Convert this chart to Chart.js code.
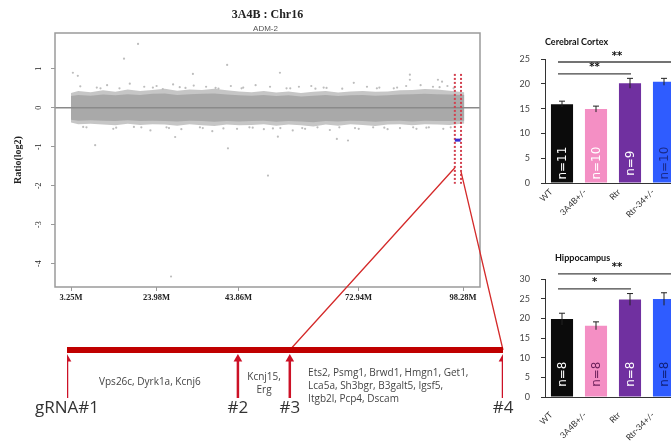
<!DOCTYPE html>
<html><head><meta charset="utf-8">
<script src="https://cdn.jsdelivr.net/npm/chart.js@4/dist/chart.umd.min.js"></script>
<style>
html,body{margin:0;padding:0;background:#fff;width:671px;height:441px;overflow:hidden;position:relative}
canvas{position:absolute}
</style></head><body>
<canvas id="scatter" width="500" height="320" style="left:0;top:0"></canvas>
<canvas id="map" width="520" height="441" style="left:0;top:0"></canvas>
<canvas id="cortex" width="175" height="205" style="left:515px;top:30px"></canvas>
<canvas id="hippo" width="175" height="201" style="left:515px;top:240px"></canvas>
<script>
// ===== Array-CGH scatter (Chr16) =====
const xTickValues = [3.25, 23.98, 43.86, 72.94, 98.28];
const xTickLabels = ['3.25M', '23.98M', '43.86M', '72.94M', '98.28M'];
const yTickValues = [-4, -3, -2, -1, 0, 1];
const bandX = [3.25, 5, 8, 11, 14, 17, 20, 23, 26, 29, 32, 35, 38, 41, 44, 47, 50, 53, 56, 59, 62, 65, 68, 71, 74, 77, 80, 83, 86, 89, 92, 95, 98.6];
const coreHigh = [0.30,0.33,0.31,0.34,0.32,0.35,0.33,0.36,0.37,0.33,0.35,0.36,0.37,0.34,0.32,0.31,0.33,0.30,0.32,0.29,0.31,0.33,0.30,0.32,0.33,0.31,0.32,0.34,0.35,0.36,0.35,0.34,0.33];
const coreLow = [-0.31,-0.33,-0.32,-0.33,-0.34,-0.32,-0.34,-0.33,-0.34,-0.35,-0.33,-0.34,-0.36,-0.34,-0.35,-0.34,-0.33,-0.36,-0.34,-0.35,-0.37,-0.34,-0.35,-0.33,-0.34,-0.36,-0.34,-0.33,-0.35,-0.33,-0.34,-0.34,-0.33];
const fringeHigh = [0.38,0.43,0.40,0.45,0.41,0.47,0.43,0.46,0.49,0.44,0.47,0.46,0.49,0.45,0.42,0.40,0.43,0.39,0.42,0.38,0.41,0.43,0.39,0.42,0.43,0.41,0.42,0.45,0.46,0.48,0.47,0.44,0.40];
const fringeLow = [-0.38,-0.42,-0.41,-0.43,-0.45,-0.41,-0.44,-0.42,-0.43,-0.46,-0.42,-0.45,-0.47,-0.43,-0.45,-0.44,-0.42,-0.46,-0.43,-0.45,-0.48,-0.43,-0.46,-0.42,-0.44,-0.47,-0.43,-0.42,-0.45,-0.42,-0.43,-0.44,-0.40];
const probeX = [19.5,16.1,41.1,3.7,4.9,53.9,32.8,85.4,85.4,92.2,93.2,71.8,9.1,28.5,41.3,53.4,67.7,70.4,51.0,27.5,
  5.5,7,9.5,12,13.5,15,17.5,18.5,21,22.5,24,25.5,27,28,30,31,33,34.5,36,37.5,39,42,43.5,45,46.5,48,50,51.5,54,55.5,57,58.5,60,61.5,63,64.5,66,69,73,75,76.5,78,80,81.5,83,84.5,87,88,90,91,93.5,94.5,96,
  6.2,10.4,14.2,20.3,23.1,26.4,29.6,35.2,38.3,40.2,44.6,47.3,52.2,56.4,59.3,62.5,65.2,68.3,72.1,77.4,79.2,82.3,86.2,89.4,92.6,95.3];
const probeY = [1.64,1.26,1.10,0.90,0.82,0.90,0.87,0.85,0.72,0.72,0.67,0.64,-0.96,-0.75,-1.04,-0.74,-0.80,-0.84,-1.74,-4.33,
  0.55,-0.50,0.52,0.58,-0.54,0.50,0.62,-0.49,0.54,-0.58,0.56,0.48,-0.52,0.60,-0.55,0.51,0.57,-0.50,0.54,-0.60,0.49,0.56,-0.54,0.52,-0.50,0.58,-0.55,0.54,-0.52,0.50,-0.58,0.54,-0.54,0.56,-0.50,0.52,-0.57,0.49,-0.54,0.54,-0.50,0.52,-0.55,0.50,-0.52,0.56,-0.54,0.58,-0.50,0.54,-0.54,0.56,0.50,
  -0.49,0.50,-0.51,-0.50,0.52,-0.50,0.53,-0.52,0.51,-0.53,0.50,-0.51,-0.53,0.50,-0.52,0.49,0.51,-0.50,-0.52,0.50,-0.51,0.52,-0.50,-0.51,0.53,-0.50];
const regionBounds = [96.3, 97.8];
const regionRatio = [0.87, -1.95];
const callStartEnd = [96.3, 97.7];
const callRatio = -0.83;

// ===== Gene map =====
const gRNANames = ['gRNA#1', '#2', '#3', '#4'];
const gRNAPos = [0, 39.2, 51.1, 100];
const geneLines = [['Vps26c, Dyrk1a, Kcnj6'], ['Kcnj15,', 'Erg'], ['Ets2, Psmg1, Brwd1, Hmgn1, Get1,', 'Lca5a, Sh3bgr, B3galt5, Igsf5,', 'Itgb2l, Pcp4, Dscam']];

// ===== Bar charts =====
const groups = ['WT', '3A4B+/-', 'Rtr', 'Rtr-34+/-'];
const cortexMeans = [15.9, 14.9, 20.1, 20.4];
const cortexErr = [0.6, 0.6, 1.0, 0.7];
const cortexN = [11, 10, 9, 10];
const hippoMeans = [19.8, 18.1, 24.8, 24.9];
const hippoErr = [1.5, 1.0, 1.5, 1.6];
const hippoN = [8, 8, 8, 8];
const cortexSig = [[0, 3, '**'], [0, 2, '**']];
const hippoSig = [[0, 3, '**'], [0, 2, '*']];

// ----- layout/style (not data) -----
const barColors = ['#0b0b0b', '#f48fc4', '#7030a0', '#2f5cff'];
const xMin = -0.63, xMax = 102.4;

const pts = (xs, ys) => xs.map((x, i) => ({x, y: ys[i]}));

const scatterDecor = {
  id: 'scatterDecor',
  afterDraw(chart) {
    const {ctx, chartArea: a, scales: {y}} = chart;
    ctx.save();
    ctx.strokeStyle = '#9a9a9a'; ctx.lineWidth = 1.5;
    ctx.strokeRect(a.left, a.top, a.right - a.left, a.bottom - a.top);
    ctx.fillStyle = '#222'; ctx.textAlign = 'center'; ctx.textBaseline = 'middle';
    ctx.font = '8px "Liberation Serif"';
    yTickValues.forEach(v => {
      ctx.save(); ctx.translate(39, y.getPixelForValue(v)); ctx.rotate(-Math.PI / 2);
      ctx.fillText(String(v), 0, 0); ctx.restore();
    });
    ctx.font = 'bold 10px "Liberation Serif"';
    ctx.save(); ctx.translate(18, (a.top + a.bottom) / 2); ctx.rotate(-Math.PI / 2);
    ctx.fillText('Ratio(log2)', 0, 0); ctx.restore();
    ctx.font = 'bold 12px "Liberation Serif"';
    ctx.fillText('3A4B : Chr16', (a.left + a.right) / 2, 15);
    ctx.font = '8px "Liberation Sans"'; ctx.fillStyle = '#555';
    ctx.fillText('ADM-2', (a.left + a.right) / 2 - 2, 29);
    ctx.restore();
  }
};

const scatterChart = new Chart(document.getElementById('scatter'), {
  type: 'line',
  data: {datasets: [
    {data: pts(bandX, fringeHigh), borderWidth: 0, pointRadius: 0, fill: '+1', backgroundColor: '#c6c6c6', order: 10},
    {data: pts(bandX, fringeLow), borderWidth: 0, pointRadius: 0, fill: false, order: 10},
    {data: pts(bandX, coreHigh), borderWidth: 0, pointRadius: 0, fill: '+1', backgroundColor: '#a9a9a9', order: 9},
    {data: pts(bandX, coreLow), borderWidth: 0, pointRadius: 0, fill: false, order: 9},
    {data: pts(probeX, probeY), showLine: false, pointRadius: 1.1, pointBackgroundColor: '#bdbdbd', pointBorderWidth: 0, order: 8},
    {data: [{x: xMin, y: 0}, {x: xMax, y: 0}], borderColor: '#8a8a8a', borderWidth: 1.5, pointRadius: 0, order: 5},
    {data: [{x: regionBounds[0], y: regionRatio[0]}, {x: regionBounds[0], y: regionRatio[1]}], borderColor: '#d2404f', borderWidth: 2, borderDash: [2, 2], pointRadius: 0, order: 3},
    {data: [{x: regionBounds[1], y: regionRatio[0]}, {x: regionBounds[1], y: regionRatio[1]}], borderColor: '#d2404f', borderWidth: 2, borderDash: [2, 2], pointRadius: 0, order: 3},
    {data: [{x: callStartEnd[0], y: callRatio}, {x: callStartEnd[1], y: callRatio}], borderColor: '#3b2fd0', borderWidth: 3, pointRadius: 0, order: 2}
  ]},
  options: {
    responsive: false, animation: false, devicePixelRatio: 1, events: [],
    layout: {padding: {top: 33, left: 0, right: 20, bottom: 0}},
    plugins: {legend: {display: false}, tooltip: {enabled: false}},
    elements: {line: {tension: 0}},
    scales: {
      x: {type: 'linear', min: xMin, max: xMax,
        afterBuildTicks(s) { s.ticks = xTickValues.map(v => ({value: v})); },
        afterFit(s) { s.height = 33; },
        grid: {drawOnChartArea: false, tickLength: 4, color: '#999'}, border: {display: false},
        ticks: {autoSkip: false, maxRotation: 0, padding: 2, color: '#222', font: {family: 'Liberation Serif', size: 8.5, weight: 'bold'},
          callback: (v) => xTickLabels[xTickValues.indexOf(v)]}},
      y: {type: 'linear', min: -4.6, max: 1.92,
        afterBuildTicks(s) { s.ticks = yTickValues.map(v => ({value: v})); },
        afterFit(s) { s.width = 55; },
        grid: {drawOnChartArea: false, tickLength: 4, color: '#999'}, border: {display: false},
        ticks: {display: false}}
    }
  },
  plugins: [scatterDecor]
});

// ===== Gene map chart =====
const mapDecor = {
  id: 'mapDecor',
  beforeDatasetsDraw(chart) {
    const ctx = chart.ctx, X = chart.scales.x, Y = chart.scales.y;
    const sx = scatterChart.scales.x, sy = scatterChart.scales.y;
    ctx.save(); ctx.strokeStyle = '#d42a2a'; ctx.lineWidth = 1.3;
    ctx.beginPath();
    ctx.moveTo(sx.getPixelForValue(regionBounds[0]), sy.getPixelForValue(-1.54));
    ctx.lineTo(X.getPixelForValue(gRNAPos[2]), Y.getPixelForValue(0));
    ctx.moveTo(sx.getPixelForValue(regionBounds[1]), sy.getPixelForValue(-1.64));
    ctx.lineTo(X.getPixelForValue(gRNAPos[3]), Y.getPixelForValue(0));
    ctx.stroke(); ctx.restore();
  },
  afterDraw(chart) {
    const ctx = chart.ctx, X = chart.scales.x, Y = chart.scales.y;
    ctx.save(); ctx.textBaseline = 'middle';
    ctx.fillStyle = '#333'; ctx.font = '17px "Open Sans"'; ctx.textAlign = 'center';
    gRNANames.forEach((n, i) => ctx.fillText(n, X.getPixelForValue(gRNAPos[i]), Y.getPixelForValue(-1.21)));
    ctx.fillStyle = '#444'; ctx.font = '10px "Open Sans"';
    ctx.fillText(geneLines[0][0], X.getPixelForValue(19.0), Y.getPixelForValue(-0.67));
    ctx.fillText(geneLines[1][0], X.getPixelForValue(45.2), Y.getPixelForValue(-0.56));
    ctx.fillText(geneLines[1][1], X.getPixelForValue(45.2), Y.getPixelForValue(-0.83));
    ctx.textAlign = 'left';
    geneLines[2].forEach((t, i) => ctx.fillText(t, X.getPixelForValue(55.3), Y.getPixelForValue(-0.48 - 0.27 * i)));
    ctx.restore();
  }
};
const mapSets = [
  {data: [{x: 0, y: 0}, {x: 100, y: 0}], borderColor: '#c00000', borderWidth: 6, pointRadius: 0, borderCapStyle: 'butt'}
];
gRNAPos.forEach(p => mapSets.push({data: [{x: p, y: -1}, {x: p, y: -0.15}], borderColor: '#cc1126', borderWidth: 2.5, pointRadius: 0}));
mapSets.push({data: gRNAPos.map(p => ({x: p, y: -0.19})), showLine: false, pointStyle: 'triangle', pointRadius: 5, pointBackgroundColor: '#cc1126', pointBorderColor: '#cc1126', pointBorderWidth: 0});
new Chart(document.getElementById('map'), {
  type: 'line',
  data: {datasets: mapSets},
  options: {
    responsive: false, animation: false, devicePixelRatio: 1, events: [],
    layout: {padding: {top: 326, left: 67, right: 17, bottom: 19}},
    plugins: {legend: {display: false}, tooltip: {enabled: false}},
    scales: {x: {type: 'linear', min: 0, max: 100, display: false}, y: {type: 'linear', min: -1.5, max: 0.5, display: false}}
  },
  plugins: [mapDecor]
});

// ===== Bar charts =====
function barDecor(cfg) {
  return {
    id: 'barDecor',
    afterDraw(chart) {
      const ctx = chart.ctx, ys = chart.scales.y, meta = chart.getDatasetMeta(0), a = chart.chartArea;
      ctx.save();
      ctx.strokeStyle = '#222'; ctx.lineWidth = 1;
      meta.data.forEach((bar, i) => {
        const hi = ys.getPixelForValue(cfg.means[i] + cfg.err[i]);
        const lo = ys.getPixelForValue(cfg.means[i] - cfg.err[i]);
        ctx.beginPath(); ctx.moveTo(bar.x, hi); ctx.lineTo(bar.x, lo);
        ctx.moveTo(bar.x - 3, hi); ctx.lineTo(bar.x + 3, hi); ctx.stroke();
      });
      ctx.font = '12px "DejaVu Sans"'; ctx.textAlign = 'center'; ctx.textBaseline = 'middle';
      meta.data.forEach((bar, i) => {
        ctx.save(); ctx.translate(bar.x + 1, ys.getPixelForValue(cfg.nY)); ctx.rotate(-Math.PI / 2);
        ctx.fillStyle = cfg.nColors[i]; ctx.fillText('n=' + cfg.n[i], 0, 0); ctx.restore();
      });
      ctx.strokeStyle = '#444'; ctx.lineWidth = 1.3; ctx.fillStyle = '#111';
      ctx.font = 'bold 10px "DejaVu Sans"';
      cfg.sig.forEach((s, k) => {
        const x0 = meta.data[s[0]].x - 4;
        const x1 = meta.data[s[1]].x + (s[1] === 3 ? 12 : 1);
        const yy = ys.getPixelForValue(cfg.sigLevel[k]);
        ctx.beginPath(); ctx.moveTo(x0, yy); ctx.lineTo(x1, yy); ctx.stroke();
        ctx.fillText(s[2], (x0 + x1) / 2, yy - 6);
      });
      ctx.font = 'bold 9px Lato'; ctx.textAlign = 'left'; ctx.fillStyle = '#111';
      ctx.fillText(cfg.title, a.left + cfg.titleDx, cfg.titleY);
      ctx.restore();
    }
  };
}
function makeBar(id, cfg) {
  return new Chart(document.getElementById(id), {
    type: 'bar',
    data: {labels: groups, datasets: [{data: cfg.means, backgroundColor: barColors, barPercentage: 0.65, categoryPercentage: 1, borderWidth: 0}]},
    options: {
      responsive: false, animation: false, devicePixelRatio: 1, events: [],
      layout: {padding: {top: cfg.top, right: 9, left: 0, bottom: 0}},
      plugins: {legend: {display: false}, tooltip: {enabled: false}},
      scales: {
        x: {grid: {drawOnChartArea: false, drawTicks: false}, border: {display: true, color: '#333', width: 1},
          ticks: {font: {family: 'Lato', size: 8.5}, color: '#333', maxRotation: 45, minRotation: 45, padding: cfg.xpad, labelOffset: -11, autoSkip: false},
          afterFit(s) { s.height = cfg.xh; }},
        y: {min: 0, max: cfg.max, ticks: {stepSize: 5, font: {family: 'Lato', size: 9}, color: '#444', padding: 11},
          grid: {drawOnChartArea: false, tickLength: 4, color: '#333'}, border: {display: true, color: '#333', width: 1},
          afterFit(s) { s.width = 30; }}
      }
    },
    plugins: [barDecor(cfg)]
  });
}
makeBar('cortex', {means: cortexMeans, err: cortexErr, n: cortexN, sig: cortexSig, sigLevel: [24.4, 22.0],
  nY: 4.0, nColors: ['#fff', '#fff', '#fff', '#1a2a8a'], max: 25, top: 29, xh: 52, xpad: 4,
  title: 'Cerebral Cortex', titleDx: 0, titleY: 12});
makeBar('hippo', {means: hippoMeans, err: hippoErr, n: hippoN, sig: hippoSig, sigLevel: [31.3, 27.5],
  nY: 5.8, nColors: ['#fff', '#6b1f5a', '#fff', '#10207a'], max: 30, top: 39, xh: 44, xpad: 13,
  title: 'Hippocampus', titleDx: 10, titleY: 18});
</script>
</body></html>
